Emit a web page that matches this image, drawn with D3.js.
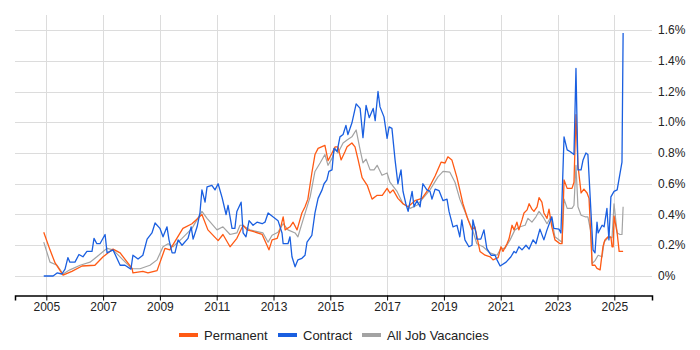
<!DOCTYPE html>
<html>
<head>
<meta charset="utf-8">
<script src="https://cdn.jsdelivr.net/npm/d3@7"></script>
<style>
  body { margin: 0; background: #fff; }
  svg { display: block; font-family: Arial, "Liberation Sans", sans-serif; }
  .grid line { stroke: #dcdcdc; stroke-width: 1; }
  .tick-label { font-size: 12px; fill: #222; }
</style>
</head>
<body>
<div id="chart"></div>
<script>
// year tick labels and percent ticks
const yearTicks = [2005, 2007, 2009, 2011, 2013, 2015, 2017, 2019, 2021, 2023, 2025]
const pctTicks = [0, 0.2, 0.4, 0.6, 0.8, 1.0, 1.2, 1.4, 1.6]

// [year, percent]
const permanent = [
  [2004.91,0.284],[2005.13,0.17],[2005.31,0.085],[2005.59,0.006],[2005.90,0.03],[2006.26,0.065],
  [2006.71,0.07],[2007.00,0.125],[2007.35,0.175],[2007.60,0.15],[2008.02,0.05],[2008.05,0.02],
  [2008.40,0.03],[2008.58,0.02],[2008.90,0.035],[2009.18,0.18],[2009.35,0.17],[2009.81,0.31],
  [2010.13,0.34],[2010.48,0.40],[2010.69,0.30],[2011.05,0.23],[2011.22,0.27],[2011.47,0.19],
  [2011.71,0.245],[2011.93,0.33],[2012.07,0.30],[2012.28,0.29],[2012.60,0.27],[2012.77,0.20],
  [2012.84,0.17],[2012.95,0.235],[2013.13,0.245],[2013.23,0.30],[2013.34,0.385],[2013.41,0.30],
  [2013.58,0.32],[2013.69,0.35],[2013.83,0.30],[2014.00,0.41],[2014.11,0.45],[2014.21,0.50],
  [2014.35,0.67],[2014.46,0.79],[2014.57,0.83],[2014.81,0.85],[2014.92,0.75],[2015.06,0.80],
  [2015.17,0.84],[2015.27,0.84],[2015.38,0.755],[2015.52,0.81],[2015.59,0.84],[2015.76,0.865],
  [2015.87,0.84],[2015.98,0.755],[2016.12,0.64],[2016.30,0.59],[2016.47,0.50],[2016.65,0.525],
  [2016.83,0.525],[2017.00,0.57],[2017.10,0.54],[2017.21,0.56],[2017.38,0.505],[2017.56,0.47],
  [2017.74,0.45],[2017.98,0.49],[2018.23,0.505],[2018.44,0.56],[2018.69,0.65],[2018.90,0.74],
  [2019.04,0.735],[2019.14,0.775],[2019.28,0.755],[2019.46,0.64],[2019.56,0.56],[2019.67,0.47],
  [2019.85,0.365],[2019.99,0.30],[2020.09,0.32],[2020.27,0.16],[2020.45,0.135],[2020.63,0.125],
  [2020.73,0.105],[2020.91,0.12],[2021.01,0.19],[2021.08,0.16],[2021.22,0.21],[2021.29,0.24],
  [2021.40,0.33],[2021.47,0.30],[2021.57,0.35],[2021.64,0.30],[2021.75,0.365],[2021.82,0.41],
  [2021.93,0.43],[2022.00,0.47],[2022.10,0.435],[2022.17,0.42],[2022.28,0.45],[2022.35,0.51],
  [2022.45,0.48],[2022.52,0.41],[2022.63,0.375],[2022.70,0.435],[2022.80,0.32],[2022.91,0.235],
  [2023.09,0.21],[2023.16,0.21],[2023.23,0.625],[2023.34,0.57],[2023.51,0.57],[2023.58,0.61],
  [2023.65,1.05],[2023.72,0.72],[2023.83,0.54],[2023.93,0.565],[2024.04,0.54],[2024.11,0.505],
  [2024.22,0.07],[2024.32,0.07],[2024.39,0.05],[2024.50,0.04],[2024.60,0.19],[2024.67,0.235],
  [2024.78,0.255],[2024.88,0.255],[2024.92,0.19],[2024.96,0.19],[2024.99,0.39],[2025.10,0.28],
  [2025.17,0.16],[2025.31,0.16]
]

const contract = [
  [2004.91,0],[2005.24,0],[2005.38,0.02],[2005.55,0.013],[2005.66,0.045],[2005.76,0.12],
  [2005.83,0.09],[2006.01,0.09],[2006.15,0.14],[2006.29,0.125],[2006.43,0.16],[2006.61,0.16],
  [2006.68,0.245],[2006.78,0.21],[2006.89,0.21],[2007.07,0.27],[2007.14,0.15],[2007.35,0.17],
  [2007.60,0.07],[2007.77,0.07],[2007.98,0.045],[2008.05,0.135],[2008.23,0.11],[2008.40,0.135],
  [2008.55,0.24],[2008.72,0.28],[2008.83,0.345],[2009.00,0.31],[2009.11,0.255],[2009.25,0.32],
  [2009.32,0.235],[2009.43,0.15],[2009.53,0.15],[2009.64,0.235],[2009.78,0.20],[2009.99,0.245],
  [2010.10,0.32],[2010.17,0.24],[2010.31,0.32],[2010.41,0.41],[2010.48,0.56],[2010.59,0.48],
  [2010.66,0.58],[2010.83,0.59],[2010.94,0.56],[2011.05,0.60],[2011.19,0.51],[2011.33,0.40],
  [2011.40,0.46],[2011.54,0.31],[2011.64,0.31],[2011.71,0.42],[2011.86,0.48],[2011.93,0.28],
  [2012.03,0.255],[2012.14,0.36],[2012.28,0.33],[2012.42,0.35],[2012.60,0.34],[2012.70,0.35],
  [2012.81,0.41],[2012.98,0.385],[2013.16,0.36],[2013.30,0.28],[2013.34,0.21],[2013.51,0.21],
  [2013.58,0.255],[2013.65,0.125],[2013.76,0.06],[2013.86,0.105],[2014.00,0.115],[2014.11,0.135],
  [2014.18,0.22],[2014.35,0.265],[2014.46,0.41],[2014.57,0.505],[2014.71,0.56],[2014.78,0.60],
  [2014.88,0.625],[2014.95,0.68],[2015.06,0.69],[2015.13,0.83],[2015.24,0.81],[2015.34,0.905],
  [2015.45,0.92],[2015.55,0.98],[2015.62,0.92],[2015.76,0.995],[2015.91,1.12],[2016.05,1.09],
  [2016.15,0.90],[2016.26,1.11],[2016.37,1.03],[2016.51,1.09],[2016.58,1.01],[2016.68,1.20],
  [2016.75,1.10],[2016.89,1.035],[2017.00,0.895],[2017.07,0.97],[2017.17,0.96],[2017.28,0.755],
  [2017.38,0.60],[2017.49,0.69],[2017.56,0.55],[2017.66,0.47],[2017.74,0.42],[2017.88,0.55],
  [2017.95,0.45],[2018.05,0.49],[2018.16,0.45],[2018.26,0.60],[2018.40,0.56],[2018.51,0.55],
  [2018.58,0.50],[2018.69,0.565],[2018.83,0.555],[2018.97,0.49],[2019.11,0.50],[2019.18,0.42],
  [2019.32,0.32],[2019.46,0.33],[2019.50,0.30],[2019.56,0.255],[2019.63,0.365],[2019.74,0.235],
  [2019.88,0.19],[2019.99,0.20],[2020.02,0.365],[2020.13,0.28],[2020.16,0.24],[2020.30,0.24],
  [2020.41,0.30],[2020.51,0.18],[2020.66,0.135],[2020.80,0.135],[2020.87,0.105],[2020.98,0.065],
  [2021.19,0.09],[2021.36,0.125],[2021.47,0.16],[2021.54,0.15],[2021.64,0.19],[2021.75,0.17],
  [2021.89,0.20],[2022.00,0.175],[2022.14,0.235],[2022.24,0.21],[2022.38,0.305],[2022.52,0.235],
  [2022.63,0.30],[2022.80,0.385],[2022.87,0.31],[2023.05,0.305],[2023.12,0.28],[2023.23,0.905],
  [2023.34,0.82],[2023.44,0.81],[2023.58,0.79],[2023.65,1.35],[2023.72,0.69],[2023.83,0.69],
  [2023.90,0.755],[2024.00,0.80],[2024.07,0.79],[2024.18,0.41],[2024.25,0.17],[2024.32,0.15],
  [2024.39,0.35],[2024.43,0.28],[2024.57,0.33],[2024.64,0.32],[2024.74,0.44],[2024.81,0.235],
  [2024.88,0.515],[2024.99,0.55],[2025.10,0.56],[2025.27,0.74],[2025.31,1.58]
]

const allJobs = [
  [2004.91,0.22],[2005.13,0.09],[2005.38,0.07],[2005.59,0.013],[2005.83,0.04],[2006.19,0.07],
  [2006.54,0.09],[2006.78,0.125],[2007.14,0.18],[2007.35,0.17],[2007.70,0.105],[2008.02,0.047],
  [2008.30,0.047],[2008.65,0.07],[2008.90,0.105],[2009.11,0.19],[2009.29,0.21],[2009.46,0.19],
  [2009.78,0.245],[2010.13,0.31],[2010.48,0.42],[2010.66,0.375],[2011.01,0.30],[2011.22,0.32],
  [2011.47,0.27],[2011.71,0.28],[2011.82,0.33],[2011.89,0.33],[2012.17,0.30],[2012.63,0.28],
  [2012.81,0.22],[2012.95,0.265],[2013.16,0.285],[2013.34,0.34],[2013.51,0.30],[2013.76,0.28],
  [2013.86,0.255],[2014.04,0.365],[2014.29,0.515],[2014.46,0.68],[2014.64,0.735],[2014.81,0.79],
  [2014.92,0.72],[2015.06,0.765],[2015.17,0.83],[2015.27,0.80],[2015.45,0.865],[2015.59,0.885],
  [2015.76,0.905],[2015.91,0.95],[2016.05,0.82],[2016.15,0.735],[2016.26,0.76],[2016.40,0.69],
  [2016.54,0.69],[2016.65,0.72],[2016.82,0.655],[2017.00,0.67],[2017.10,0.61],[2017.35,0.55],
  [2017.56,0.47],[2017.81,0.44],[2018.05,0.46],[2018.26,0.505],[2018.51,0.56],[2018.79,0.645],
  [2018.97,0.68],[2019.21,0.675],[2019.39,0.61],[2019.56,0.50],[2019.74,0.42],[2019.81,0.385],
  [2019.99,0.31],[2020.16,0.21],[2020.38,0.19],[2020.62,0.15],[2020.87,0.135],[2021.01,0.18],
  [2021.15,0.18],[2021.33,0.235],[2021.50,0.30],[2021.68,0.32],[2021.86,0.33],[2021.96,0.375],
  [2022.10,0.35],[2022.24,0.385],[2022.35,0.42],[2022.49,0.385],[2022.63,0.34],[2022.77,0.385],
  [2022.91,0.255],[2023.16,0.22],[2023.23,0.50],[2023.34,0.44],[2023.51,0.44],[2023.58,0.46],
  [2023.65,0.72],[2023.72,0.45],[2023.83,0.395],[2023.97,0.385],[2024.07,0.385],[2024.18,0.28],
  [2024.22,0.08],[2024.32,0.10],[2024.43,0.135],[2024.57,0.125],[2024.64,0.22],[2024.78,0.25],
  [2024.92,0.25],[2024.99,0.47],[2025.10,0.28],[2025.20,0.27],[2025.27,0.27],[2025.31,0.45]
]

const seriesNames = ['Permanent', 'Contract', 'All Job Vacancies']
const seriesColors = ['#ff5a14', '#1a5fe0', '#a3a3a3']
const seriesData = [permanent, contract, allJobs]

const W = 700, H = 350
const plot = {left: 15, right: 652, top: 15, bottom: 295}

const svg = d3.select('#chart').append('svg')
    .attr('width', W)
    .attr('height', H)

const x = d3.scaleLinear()
    .domain([2003.898, 2026.327])
    .range([plot.left, plot.right])

const y = d3.scaleLinear()
    .domain([-0.1236, 1.6976])
    .range([plot.bottom, plot.top])

// gridlines
const grid = svg.append('g').attr('class', 'grid')
grid.selectAll('.vg')
    .data(yearTicks)
  .enter().append('line')
    .attr('x1', d => Math.round(x(d)) + 0.5)
    .attr('x2', d => Math.round(x(d)) + 0.5)
    .attr('y1', plot.top)
    .attr('y2', plot.bottom)
grid.selectAll('.hg')
    .data(pctTicks)
  .enter().append('line')
    .attr('x1', plot.left)
    .attr('x2', plot.right)
    .attr('y1', d => Math.round(y(d)) + 0.5)
    .attr('y2', d => Math.round(y(d)) + 0.5)

// x axis
const xAxis = svg.append('g')
    .attr('transform', 'translate(0,' + (plot.bottom + 0.5) + ')')
    .call(d3.axisBottom(x).tickValues(yearTicks).tickFormat(d3.format('d')).tickSizeOuter(0).tickSize(5))
xAxis.select('.domain').attr('stroke', '#000').attr('stroke-width', 1.5)
xAxis.selectAll('.tick line').attr('stroke', '#000')
xAxis.selectAll('.tick text')
    .attr('class', 'tick-label')
    .attr('y', 7)
    .attr('dy', '0.71em')
    .style('font-family', 'Arial, "Liberation Sans", sans-serif')

// y labels on right
svg.append('g').selectAll('text')
    .data(pctTicks)
  .enter().append('text')
    .attr('class', 'tick-label')
    .attr('x', 658)
    .attr('y', d => y(d))
    .attr('dy', '0.35em')
    .text(d => d === 0 ? '0%' : d.toFixed(1) + '%')

// lines
const line = d3.line()
    .x(d => x(d[0]))
    .y(d => y(d[1]))

const order = [2, 0, 1]
order.forEach(i => {
  svg.append('path')
      .datum(seriesData[i])
      .attr('fill', 'none')
      .attr('stroke', seriesColors[i])
      .attr('stroke-width', i === 2 ? 1.2 : 1.3)
      .attr('stroke-linejoin', 'round')
      .attr('d', line)
})

// legend
const legendItems = [
  {name: seriesNames[0], color: seriesColors[0], x: 179},
  {name: seriesNames[1], color: seriesColors[1], x: 278},
  {name: seriesNames[2], color: seriesColors[2], x: 362}
]
const legend = svg.append('g')
legendItems.forEach(d => {
  legend.append('line')
      .attr('x1', d.x).attr('x2', d.x + 19)
      .attr('y1', 335).attr('y2', 335)
      .attr('stroke', d.color)
      .attr('stroke-width', 4)
  legend.append('text')
      .attr('x', d.x + 25)
      .attr('y', 335)
      .attr('dy', '0.35em')
      .style('font-size', '13px')
      .style('fill', '#222')
      .text(d.name)
})
</script>
</body>
</html>
